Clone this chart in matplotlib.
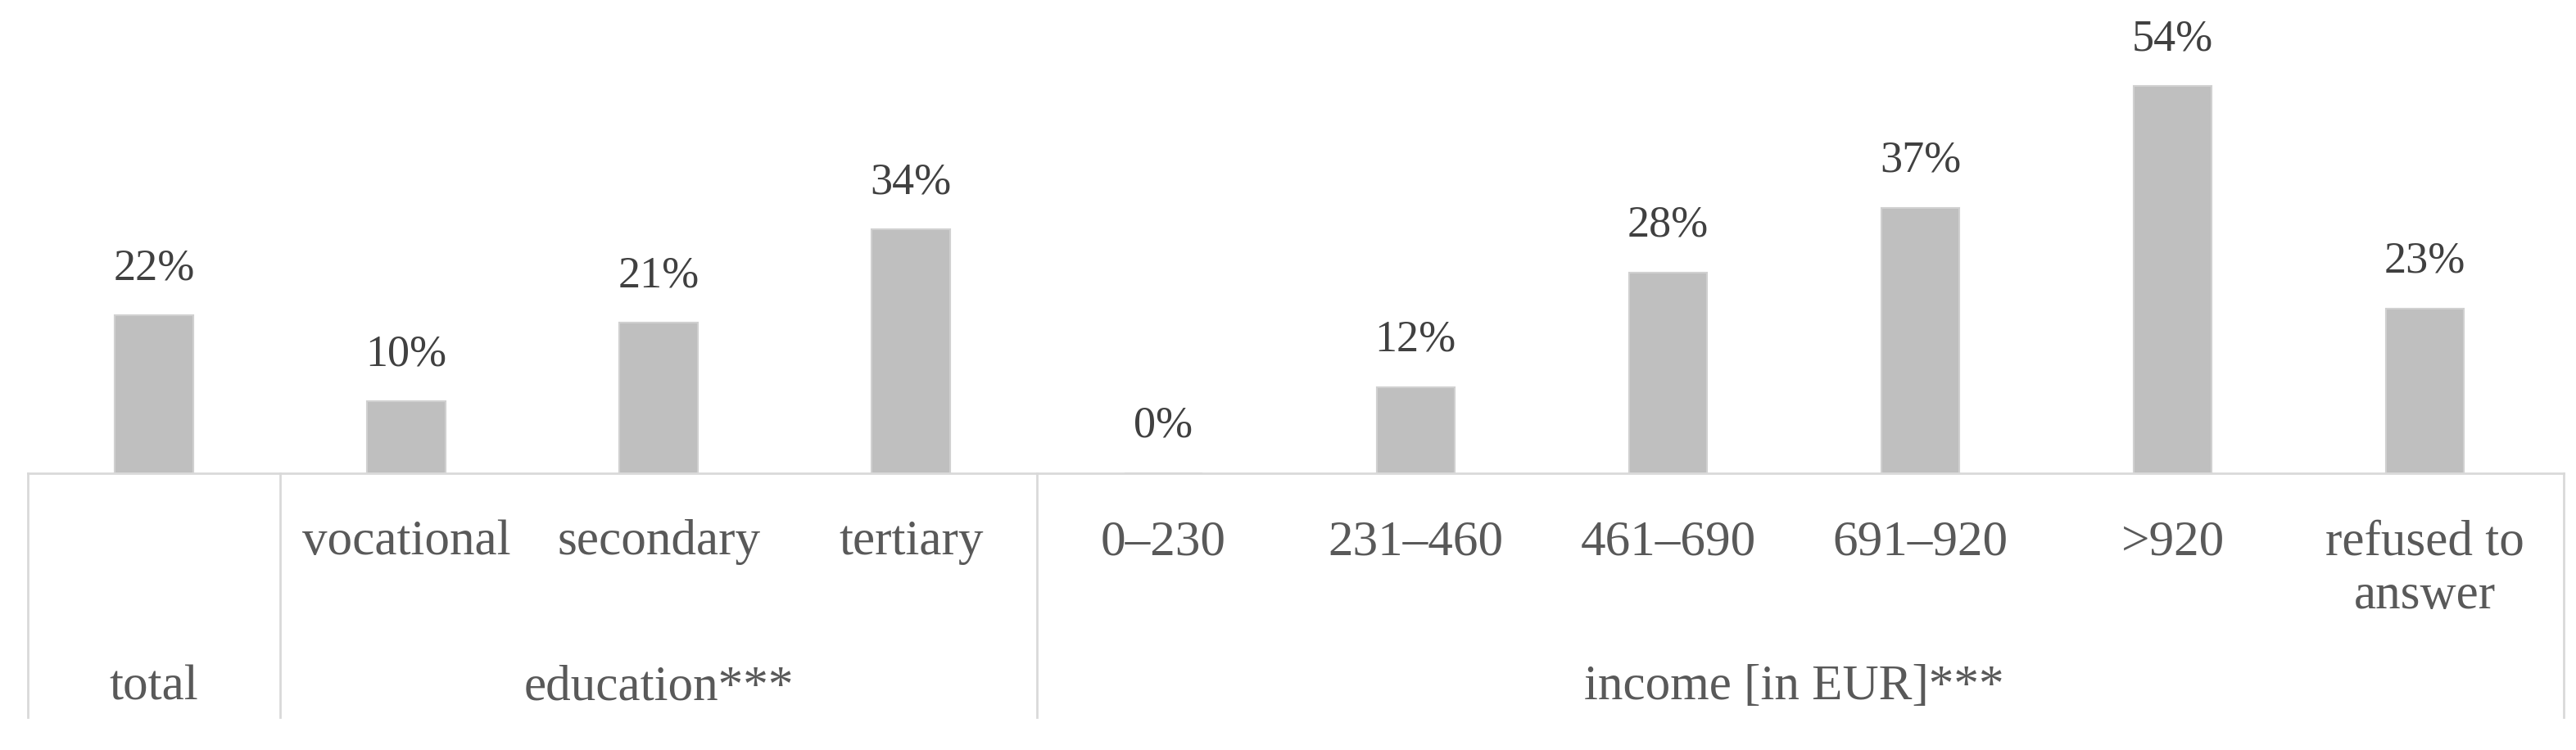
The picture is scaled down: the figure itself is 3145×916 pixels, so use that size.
import matplotlib
matplotlib.use("Agg")
import matplotlib.pyplot as plt

# data
categories = ["total", "vocational", "secondary", "tertiary",
              "0\u2013230", "231\u2013460", "461\u2013690", "691\u2013920",
              ">920", "refused to\nanswer"]
values = [22, 10, 21, 34, 0, 12, 28, 37, 54, 23]
groups = ["total", "education***", "income [in EUR]***"]
group_spans = [(0, 0), (1, 3), (4, 9)]

plt.rcParams['font.family'] = ['Liberation Serif', 'DejaVu Serif']
txt_col = "#595959"
line_col = "#d9d9d9"

fig = plt.figure(figsize=(31.45, 9.16), dpi=100)
ax = fig.add_axes([34 / 3145, 1 - 578 / 916, (3130 - 34) / 3145, 578 / 916])

x = list(range(len(values)))
ax.bar(x, values, width=0.31, color="#bfbfbf", edgecolor="#d0d0d0", linewidth=1.5)

for xi, v in zip(x, values):
    ax.annotate(f"{v}%", (xi, v), xytext=(0, 44), textcoords="offset pixels",
                ha="center", va="baseline", fontsize=39, color="#404040")

ax.set_xlim(-0.5, 9.55)
ax.set_ylim(0, 66)
for s in ["top", "right", "left"]:
    ax.spines[s].set_visible(False)
ax.spines["bottom"].set_color(line_col)
ax.spines["bottom"].set_linewidth(2)
ax.set_yticks([])
ax.set_xticks([])

tr = ax.get_xaxis_transform()
# category labels (first row)
for xi, lab in enumerate(categories):
    if xi == 0:
        continue
    for k, part in enumerate(lab.split("\n")):
        ax.text(xi, -0.172 - k * 0.113, part, transform=tr, ha="center", va="baseline",
                fontsize=44, color=txt_col)

# group labels and separators
for name, (a, b) in zip(groups, group_spans):
    ax.text((a + b) / 2, -0.478, name, transform=tr, ha="center", va="baseline",
            fontsize=44, color=txt_col)
seps = [-0.5, 0.5, 3.5, 9.55]
for sx in seps:
    ax.plot([sx, sx], [0, -0.516], transform=tr, color=line_col, lw=2, clip_on=False)

fig.savefig("out.png", dpi=100)
